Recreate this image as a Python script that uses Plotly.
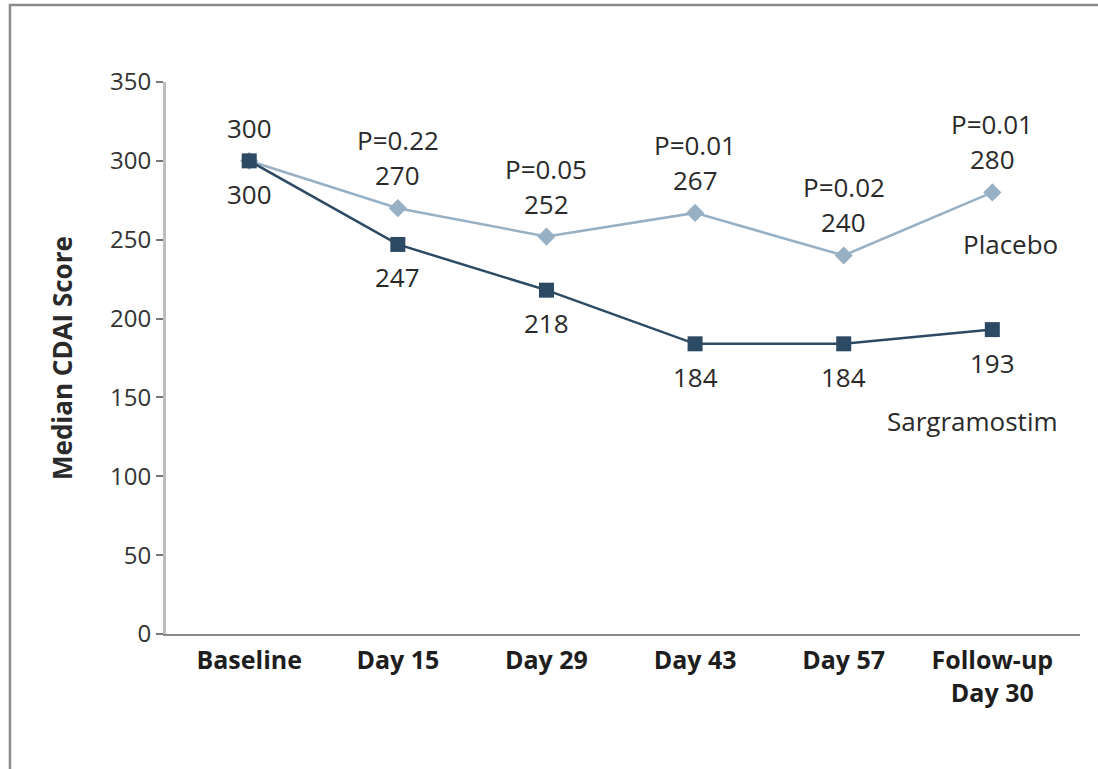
import plotly.graph_objects as go

# Visits and median CDAI scores per treatment arm
visits = ["Baseline", "Day 15", "Day 29", "Day 43", "Day 57", "Follow-up<br>Day 30"]
placebo = [300, 270, 252, 267, 240, 280]
sargramostim = [300, 247, 218, 184, 184, 193]
p_values = [None, "P=0.22", "P=0.05", "P=0.01", "P=0.02", "P=0.01"]
y_ticks = [0, 50, 100, 150, 200, 250, 300, 350]

FONT = "Open Sans"
TEXT = "#2a2a2a"
DARK = "#2c4a63"
LIGHT = "#98b0c3"

idx = list(range(len(visits)))

fig = go.Figure()
fig.add_trace(go.Scatter(
    x=idx, y=placebo, mode="lines+markers", name="Placebo",
    line=dict(color=LIGHT, width=2.5),
    marker=dict(symbol="diamond", size=14, color=LIGHT),
))
fig.add_trace(go.Scatter(
    x=idx, y=sargramostim, mode="lines+markers", name="Sargramostim",
    line=dict(color=DARK, width=2.5),
    marker=dict(symbol="square", size=15, color=DARK),
))

ann = []
label_font = dict(family=FONT, size=26, color=TEXT)
for i in idx:
    # placebo value above its marker
    ann.append(dict(x=i, y=placebo[i], text=str(placebo[i]), showarrow=False,
                    yshift=33, font=label_font))
    # sargramostim value below its marker
    ann.append(dict(x=i, y=sargramostim[i], text=str(sargramostim[i]), showarrow=False,
                    yshift=-33, font=label_font))
    if p_values[i]:
        ann.append(dict(x=i, y=placebo[i], text=p_values[i], showarrow=False,
                        yshift=68, font=label_font))

ann.append(dict(x=5, y=placebo[5], text="Placebo", showarrow=False,
                xshift=18, yshift=-52, font=label_font))
ann.append(dict(x=5, y=sargramostim[5], text="Sargramostim", showarrow=False,
                xshift=-20, yshift=-91, font=label_font))

# y-axis title
ann.append(dict(x=-0.1138, y=0.5, xref="paper", yref="paper", text="Median CDAI Score",
                textangle=-90, showarrow=False, xanchor="center", yanchor="middle",
                font=dict(family=FONT, size=26, color=TEXT, weight="bold")))

fig.update_layout(
    width=1098, height=769,
    margin=dict(l=166, r=18, t=82, b=135),
    paper_bgcolor="white", plot_bgcolor="white",
    showlegend=False,
    annotations=ann,
    shapes=[dict(type="rect", xref="paper", yref="paper",
                 x0=-0.1707, x1=1.3, y0=-0.35, y1=1.1395,
                 line=dict(color="#8c8c8c", width=2.5), layer="below")],
)
fig.update_xaxes(
    range=[-0.56, 5.59], tickmode="array", tickvals=idx, ticktext=visits,
    showgrid=False, zeroline=False, showline=True, linecolor="#8a8a8a", linewidth=2,
    ticks="", ticklabelstandoff=3,
    tickfont=dict(family=FONT, size=25, color="#1e1e1e", weight="bold"),
)
fig.update_yaxes(
    range=[0, 350], tickmode="array", tickvals=y_ticks,
    showgrid=False, zeroline=False, showline=True, linecolor="#bdbdbd", linewidth=3,
    ticks="outside", ticklen=7, tickwidth=1.5, tickcolor="#777777",
    tickfont=dict(family=FONT, size=24, color="#333333"),
)

fig.write_html("out.html")
